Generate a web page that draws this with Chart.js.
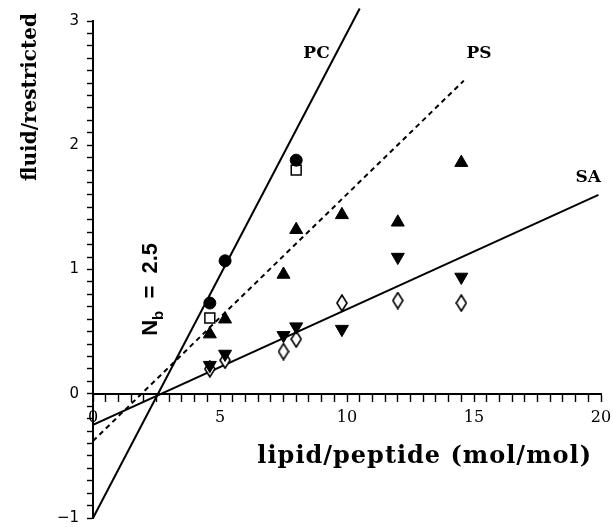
<!DOCTYPE html>
<html>
<head>
<meta charset="utf-8">
<script src="https://cdn.jsdelivr.net/npm/chart.js@4/dist/chart.umd.min.js"></script>
<style>
  body { margin: 0; background: #fff; }
  #wrap { width: 613px; height: 527px; }
</style>
</head>
<body>
<div id="wrap"><canvas id="grafico"></canvas></div>
<script>
// lipid/peptide ratios (x) shared by the series
var razao = [4.6, 5.2, 7.5, 8.0, 9.8, 12.0, 14.5];

// filled circles and open squares (PC)
var pcCirculo = [[4.6, 0.73], [5.2, 1.07], [8.0, 1.88]];
var pcQuadrado = [[4.6, 0.61], [8.0, 1.80]];

// filled triangles up / down, open diamonds
var trianguloCima = [0.48, 0.60, 0.96, 1.32, 1.44, 1.38, 1.86];
var trianguloBaixo = [0.23, 0.32, 0.47, 0.54, 0.52, 1.10, 0.94];
var losango = [0.20, 0.27, 0.34, 0.44, 0.73, 0.75, 0.73];

// fitted lines (end points)
var linhaPC = [[0, -1.0], [10.5, 3.1]];
var linhaPS = [[0, -0.38], [14.6, 2.52]];
var linhaSA = [[0, -0.25], [19.9, 1.60]];

// text labels placed in data units
var rotulos = [
    { texto: 'PC', x: 8.8, y: 2.74 },
    { texto: 'PS', x: 15.2, y: 2.74 },
    { texto: 'SA', x: 19.5, y: 1.74 }
];

var tickX = [0, 5, 10, 15, 20];
var tickY = [-1, 0, 1, 2, 3];

function pares(lista) {
    return lista.map(function (p) { return { x: p[0], y: p[1] }; });
}
function serie(ys) {
    return ys.map(function (v, i) { return { x: razao[i], y: v }; });
}

// tall open diamond marker
var diamante = document.createElement('canvas');
diamante.width = 12;
diamante.height = 18;
var dc = diamante.getContext('2d');
dc.fillStyle = '#fff';
dc.strokeStyle = '#000';
dc.lineWidth = 1.6;
dc.beginPath();
dc.moveTo(6, 1);
dc.lineTo(11, 9);
dc.lineTo(6, 17);
dc.lineTo(1, 9);
dc.closePath();
dc.fill();
dc.stroke();

function ehInteiro(v, lista) {
    for (var i = 0; i < lista.length; i++) {
        if (Math.abs(v - lista[i]) < 1e-6) return lista[i];
    }
    return null;
}

var textos = {
    id: 'textos',
    afterDraw: function (chart) {
        var ctx = chart.ctx;
        var sx = chart.scales.x, sy = chart.scales.y;
        ctx.save();
        ctx.fillStyle = '#000';
        ctx.textBaseline = 'middle';

        ctx.font = 'bold 17px "DejaVu Serif"';
        ctx.textAlign = 'center';
        rotulos.forEach(function (r) {
            ctx.fillText(r.texto, sx.getPixelForValue(r.x), sy.getPixelForValue(r.y));
        });

        // x axis title
        ctx.save();
        ctx.font = 'bold 24px "DejaVu Serif"';
        ctx.letterSpacing = '1px';
        ctx.textAlign = 'right';
        ctx.fillText('lipid/peptide (mol/mol)', 592, 457);
        ctx.restore();

        // y axis title
        ctx.save();
        ctx.font = 'bold 20px "DejaVu Serif"';
        ctx.translate(31, 97);
        ctx.rotate(-Math.PI / 2);
        ctx.textAlign = 'center';
        ctx.fillText('fluid/restricted', 0, 0);
        ctx.restore();

        // N_b = 2.5
        ctx.save();
        ctx.translate(sx.getPixelForValue(2.3), sy.getPixelForValue(0.84));
        ctx.rotate(-Math.PI / 2);
        ctx.textAlign = 'left';
        var fGrande = 'bold 22px "Liberation Sans"';
        var fPequena = 'bold 15px "Liberation Sans"';
        ctx.font = fGrande;
        var w1 = ctx.measureText('N').width;
        ctx.font = fPequena;
        var w2 = ctx.measureText('b').width;
        ctx.font = fGrande;
        var w3 = ctx.measureText('  =  2.5').width;
        var inicio = -(w1 + w2 + w3) / 2;
        ctx.fillText('N', inicio, 0);
        ctx.font = fPequena;
        ctx.fillText('b', inicio + w1, 7);
        ctx.font = fGrande;
        ctx.fillText('  =  2.5', inicio + w1 + w2, 0);
        ctx.restore();

        ctx.restore();
    }
};

var grafico = new Chart(document.getElementById('grafico'), {
    type: 'scatter',
    data: {
        datasets: [
            {
                data: pares(pcCirculo),
                pointStyle: 'circle',
                pointRadius: 6,
                backgroundColor: '#000',
                borderColor: '#000'
            },
            {
                data: pares(pcQuadrado),
                pointStyle: 'rect',
                pointRadius: 7,
                borderWidth: 1.5,
                backgroundColor: '#fff',
                borderColor: '#000'
            },
            {
                data: serie(trianguloCima),
                pointStyle: 'triangle',
                pointRadius: 7.5,
                backgroundColor: '#000',
                borderColor: '#000'
            },
            {
                data: serie(trianguloBaixo),
                pointStyle: 'triangle',
                rotation: 180,
                pointRadius: 7.5,
                backgroundColor: '#000',
                borderColor: '#000'
            },
            {
                data: serie(losango),
                pointStyle: diamante,
                pointRadius: 8
            },
            {
                type: 'line',
                data: pares(linhaPC),
                borderColor: '#000',
                borderWidth: 2,
                pointRadius: 0,
                clip: 20
            },
            {
                type: 'line',
                data: pares(linhaPS),
                borderColor: '#000',
                borderWidth: 2,
                borderDash: [5, 4],
                pointRadius: 0
            },
            {
                type: 'line',
                data: pares(linhaSA),
                borderColor: '#000',
                borderWidth: 2,
                pointRadius: 0
            }
        ]
    },
    options: {
        responsive: true,
        maintainAspectRatio: false,
        animation: false,
        layout: {
            padding: { top: 21, right: 12, bottom: 5, left: 0 }
        },
        plugins: {
            legend: { display: false },
            tooltip: { enabled: false }
        },
        scales: {
            x: {
                type: 'linear',
                min: 0,
                max: 20,
                position: { y: 0 },
                afterFit: function (scale) {
                    scale.height = 0;
                    scale.paddingLeft = 0;
                    scale.paddingRight = 0;
                },
                grid: {
                    drawOnChartArea: false,
                    drawTicks: true,
                    tickLength: 7,
                    tickColor: '#000',
                    tickWidth: 1.4
                },
                border: { display: true, color: '#000', width: 2 },
                ticks: {
                    stepSize: 0.5,
                    autoSkip: false,
                    maxRotation: 0,
                    padding: 7,
                    color: '#000',
                    font: { family: 'DejaVu Serif', size: 16 },
                    callback: function (v) {
                        var t = ehInteiro(v, tickX);
                        return t === null ? '' : String(t);
                    }
                }
            },
            y: {
                type: 'linear',
                min: -1,
                max: 3,
                position: 'left',
                afterFit: function (scale) {
                    scale.width = 93;
                    scale.paddingTop = 0;
                    scale.paddingBottom = 0;
                },
                grid: {
                    drawOnChartArea: false,
                    drawTicks: true,
                    tickLength: 6,
                    tickColor: '#000',
                    tickWidth: 1.4
                },
                border: { display: true, color: '#000', width: 2 },
                ticks: {
                    stepSize: 0.1,
                    autoSkip: false,
                    maxTicksLimit: 100,
                    padding: 8,
                    color: '#000',
                    font: { family: 'DejaVu Sans', size: 15 },
                    callback: function (v) {
                        var t = ehInteiro(v, tickY);
                        return t === null ? '' : (t < 0 ? '\u2212' + (-t) : String(t));
                    }
                }
            }
        }
    },
    plugins: [textos]
});
</script>
</body>
</html>
